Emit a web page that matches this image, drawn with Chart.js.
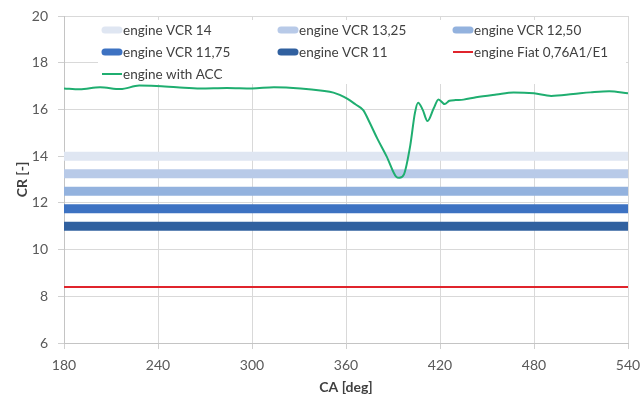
<!DOCTYPE html>
<html>
<head>
<meta charset="utf-8">
<script src="https://cdn.jsdelivr.net/npm/chart.js@4.4.1/dist/chart.umd.min.js"></script>
<style>
  html, body { margin: 0; padding: 0; background: #ffffff; }
  #wrap { width: 642px; height: 400px; position: relative; }
</style>
</head>
<body>
<div id="wrap"><canvas id="c" width="642" height="400"></canvas></div>
<script>
// ---- data ----
const caAcc = [180,190,203,216,228,239,252,267,284,300,314,331,345,352,356,361,366,371,375,380,386,392,394,397,401,404,406,409,412,416,419,423,426,430,435,443,456,467,480,491,505,516,528,540];
const crAcc = [16.9,16.86,16.95,16.87,17.02,17.0,16.95,16.9,16.92,16.9,16.95,16.9,16.8,16.72,16.62,16.45,16.22,15.97,15.45,14.75,13.98,13.12,13.07,13.22,14.45,15.85,16.29,15.98,15.5,16.05,16.43,16.23,16.37,16.4,16.42,16.52,16.64,16.73,16.69,16.58,16.66,16.73,16.78,16.69];
const vcrLabels = ['engine VCR 14','engine VCR 13,25','engine VCR 12,50','engine VCR 11,75','engine VCR 11'];
const vcrValues = [14, 13.25, 12.5, 11.75, 11];
const vcrColors = ['#dfe6f2','#b8cae8','#93b2de','#3d72c2','#30609f'];
const fiatLabel = 'engine Fiat 0,76A1/E1';
const fiatValue = 8.4;
const accLabel = 'engine with ACC';
const caRange = [180, 540];
const caStep = 60;
const crRange = [6, 20];
const crStep = 2;
const xTitle = 'CA [deg]';
const yTitle = 'CR [-]';

const FONT = 'Lato, "Open Sans", sans-serif';

const datasets = [];
vcrValues.forEach((v, i) => {
  datasets.push({
    label: vcrLabels[i],
    data: [{x: caRange[0], y: v}, {x: caRange[1], y: v}],
    borderColor: vcrColors[i],
    backgroundColor: vcrColors[i],
    borderWidth: 9,
    borderCapStyle: 'butt',
    pointRadius: 0,
    order: 2 + i,
    legendKind: 'band'
  });
});
datasets.push({
  label: fiatLabel,
  data: [{x: caRange[0], y: fiatValue}, {x: caRange[1], y: fiatValue}],
  borderColor: '#e0242c',
  backgroundColor: '#e0242c',
  borderWidth: 2,
  pointRadius: 0,
  order: 1,
  legendKind: 'line'
});
datasets.push({
  label: accLabel,
  data: caAcc.map((x, i) => ({x: x, y: crAcc[i]})),
  borderColor: '#1fae70',
  backgroundColor: '#1fae70',
  borderWidth: 2,
  pointRadius: 0,
  cubicInterpolationMode: 'monotone',
  order: 0,
  legendKind: 'line'
});

// custom legend drawn inside the plot, 3 columns
const legendPlugin = {
  id: 'insideLegend',
  afterDatasetsDraw(chart) {
    const ctx = chart.ctx;
    const colX = [102, 278, 453];
    const rowY = [30, 52, 74];
    ctx.save();
    ctx.fillStyle = '#ffffff';
    ctx.fillRect(98, 20, 528, 64);
    ctx.font = '13.5px ' + FONT;
    ctx.textBaseline = 'middle';
    ctx.textAlign = 'left';
    chart.data.datasets.forEach((ds, i) => {
      const cx = colX[i % 3];
      const cy = rowY[Math.floor(i / 3)];
      ctx.strokeStyle = ds.borderColor;
      ctx.lineCap = ds.legendKind === 'band' ? 'round' : 'butt';
      ctx.lineWidth = ds.legendKind === 'band' ? 7 : 2;
      ctx.beginPath();
      if (ds.legendKind === 'band') {
        ctx.moveTo(cx + 3, cy); ctx.lineTo(cx + 17, cy);
      } else {
        ctx.moveTo(cx, cy); ctx.lineTo(cx + 20, cy);
      }
      ctx.stroke();
      ctx.fillStyle = '#404040';
      ctx.fillText(ds.label, cx + 21, cy + 1);
    });
    ctx.restore();
  }
};

new Chart(document.getElementById('c'), {
  type: 'line',
  data: { datasets: datasets },
  plugins: [legendPlugin],
  options: {
    responsive: false,
    animation: false,
    layout: { padding: { left: 0, right: 14, top: 16, bottom: 0 } },
    plugins: { legend: { display: false }, tooltip: { enabled: false } },
    elements: { line: { tension: 0 } },
    scales: {
      x: {
        type: 'linear',
        min: caRange[0], max: caRange[1],
        afterFit(s) { s.height = 57; s.paddingRight = 0; s.paddingLeft = 0; },
        ticks: { stepSize: caStep, color: '#595959', font: { family: FONT, size: 14 }, padding: 8, maxRotation: 0 },
        grid: { color: '#d9d9d9', tickLength: 6, tickColor: '#d0d0d0' },
        border: { color: '#c4c4c4' },
        title: { display: true, text: xTitle, color: '#404040', font: { family: FONT, size: 14, weight: 'bold' }, padding: { top: 0, bottom: 4 } }
      },
      y: {
        min: crRange[0], max: crRange[1],
        afterFit(s) { s.width = 64; s.paddingTop = 0; s.paddingBottom = 0; },
        ticks: { stepSize: crStep, color: '#595959', font: { family: FONT, size: 14 }, padding: 10 },
        grid: { color: '#d9d9d9', tickLength: 6, tickColor: '#d0d0d0' },
        border: { color: '#c4c4c4' },
        title: { display: true, text: yTitle, color: '#404040', font: { family: FONT, size: 14, weight: 'bold' }, padding: { top: 14, bottom: 0 } }
      }
    }
  }
});
</script>
</body>
</html>
